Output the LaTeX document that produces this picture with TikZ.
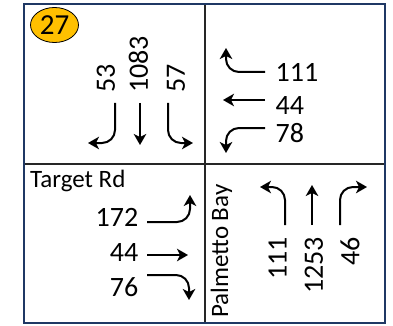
\documentclass[tikz,border=0pt]{standalone}
\usepackage{fontspec}
\setmainfont{Carlito}
\usetikzlibrary{arrows.meta,shapes.geometric}
\definecolor{navy}{HTML}{1F3864}
\definecolor{badge}{HTML}{FFC000}
\begin{document}
\begin{tikzpicture}[x=1pt,y=-1pt,
  num/.style={inner sep=0pt, font=\fontsize{28}{30}\selectfont},
  street/.style={inner sep=0pt, font=\fontsize{25}{28}\selectfont},
  mv/.style={line width=2pt, -{Stealth[length=11pt,width=12.5pt,inset=3pt]}, rounded corners=13pt},
  grid/.style={line width=1.2pt, black!85},
]
\useasboundingbox (0,0) rectangle (393,326);
\fill[white] (0,0) rectangle (393,326);
% grid
\coordinate (tl) at (24,4);
\coordinate (br) at (384.5,322.5);
\coordinate (mt) at (205,4);
\coordinate (mb) at (205,322.5);
\coordinate (ml) at (24,164);
\coordinate (mr) at (384.5,164);
\draw[grid] (mt) -- (mb);
\draw[grid] (ml) -- (mr);
\draw[navy, line width=2pt] (tl) rectangle (br);
% badge
\node[draw=black, line width=0.8pt, fill=badge, ellipse, minimum width=48pt, minimum height=35pt, inner sep=0pt, font=\fontsize{29}{30}\selectfont] (badge) at (54.5,25) {27};
% top-left (southbound)
\node[num, rotate=90, anchor=west] (s53) at (106,93) {53};
\node[num, rotate=90, anchor=west] (s1083) at (138.5,93) {1083};
\node[num, rotate=90, anchor=west] (s57) at (176,93) {57};
\draw[mv] (115,103) |- (88,143);
\draw[mv] (140,103) -- (140,145);
\draw[mv] (168,103) |- (193,143);
% top-right (westbound)
\node[num, anchor=west] (w111) at (275.5,72.5) {111};
\node[num, anchor=west] (w44) at (275.5,106) {44};
\node[num, anchor=west] (w78) at (275.5,133) {78};
\draw[mv] (265,72) -| (226,48);
\draw[mv] (265,100) -- (223,100);
\draw[mv] (265,128) -| (226,153);
% bottom-left (eastbound)
\node[street, anchor=base west] (trd) at (30,187.5) {Target Rd};
\node[num, anchor=east] (e172) at (138.5,217) {172};
\node[num, anchor=east] (e44) at (138.5,253) {44};
\node[num, anchor=east] (e76) at (138.5,287) {76};
\draw[mv] (147,222) -| (190,195);
\draw[mv] (147,255) -- (188,255);
\draw[mv] (147,275) -| (189,300);
% bottom-right (northbound)
\node[street, rotate=90, anchor=base west] (pb) at (228,318) {Palmetto Bay};
\node[num, rotate=90, anchor=east] (n111) at (277.5,237) {111};
\node[num, rotate=90, anchor=east] (n1253) at (314,237) {1253};
\node[num, rotate=90, anchor=east] (n46) at (350,237) {46};
\draw[mv] (285,225) |- (260,187);
\draw[mv] (312,225) -- (312,185);
\draw[mv] (340,225) |- (367,187);
\end{tikzpicture}
\end{document}
